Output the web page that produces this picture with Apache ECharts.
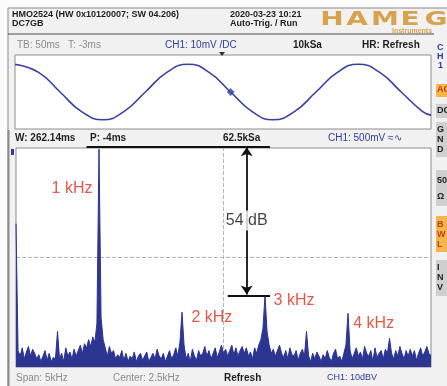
<!DOCTYPE html>
<html>
<head>
<meta charset="utf-8">
<script src="https://cdn.jsdelivr.net/npm/echarts@6/dist/echarts.min.js"></script>
<style>
html, body { margin: 0; padding: 0; background: #fff; }
#container { width: 447px; height: 386px; }
</style>
</head>
<body>
<div id="container"></div>
<script type="text/javascript">
// CH1 time trace (ms from left edge, mV)
var waveT  = [0, 34, 65, 96, 127, 157, 188, 219, 250, 280, 311, 342, 372, 403, 434, 465, 495, 526, 557, 588, 600];
var waveMv = [29.9, 21.2, 0, -21.2, -30, -21.2, 0, 21.2, 30, 21.2, 0, -21.2, -30, -21.2, 0, 21.2, 30, 21.2, 0, -21.2, -25];
var triggerPoint = [311, 0];

// FFT 0..5 kHz in 25 Hz bins, dB below top of screen (10 dB/div)
var binHz = 25;
var spectrumDb = [
  -27.6, -74, -76, -73, -77, -74.5, -72.5, -76, -73.5, -75,
  -77, -75.5, -78, -76, -74, -77.5, -75, -78, -76.5, -77,
  -67, -77, -75, -78, -73, -76, -74.5, -77, -73.5, -76,
  -74, -72, -75, -71.5, -73, -70, -72.5, -69, -71, -64,
  -0.4, -62, -70, -73, -76, -72.5, -75, -74, -77, -75.5,
  -76.5, -74, -77.5, -75, -78, -76, -77, -74.5, -78, -76,
  -75, -77.5, -76, -74.5, -78, -76.5, -75, -77, -73.5, -76,
  -77, -75, -78, -76, -74, -77, -75.5, -73, -76, -71,
  -60, -72, -77, -75, -78, -73.5, -76, -77.5, -74, -76,
  -75, -72.5, -76, -74, -77, -75, -73, -76.5, -74.5, -72,
  -75, -73.5, -76, -74, -72, -75.5, -73, -76, -74, -72.5,
  -75, -73, -76, -74.5, -77, -73, -75, -72, -70, -66,
  -53.8, -67, -72, -75, -73.5, -76, -74, -72, -75, -76.5,
  -74, -77, -73, -75.5, -76, -74, -77.5, -75, -73.5, -76,
  -67, -76, -78, -75, -77, -74.5, -76, -78, -75.5, -77,
  -74, -76.5, -78, -75, -73.5, -77, -76, -78, -75, -72,
  -60.4, -74, -77, -75, -73, -76, -74.5, -77, -72.5, -75,
  -76, -74, -78, -73, -76.5, -75, -74, -77, -73.5, -75,
  -69.5, -75, -77, -74, -76, -72.5, -75, -77, -74, -76,
  -73.5, -76, -74, -77.5, -75, -73, -76, -74.5, -72.5, -75,
  -76
];

var peakNames = ['1 kHz', '2 kHz', '3 kHz', '4 kHz'];
var deltaText = '54 dB';
var refTop = 0.6;      // 1 kHz level marker
var refLow = -53.8;    // 3 kHz level marker

var myChart = echarts.init(document.getElementById('container'), null, {renderer: 'canvas'});

var spectrum = spectrumDb.map(function (v, i) { return [i * binHz, v]; });
var wave = waveT.map(function (t, i) { return [t, waveMv[i]]; });

var FONT = '"Liberation Sans", Arial, sans-serif';
function txt(x, y, s, color, font, align) {
    return {
        type: 'text', x: x, y: y, z: 100,
        style: {
            text: s, fill: color, font: font + ' ' + FONT,
            textAlign: align || 'left', align: align || 'left',
            textVerticalAlign: 'middle', verticalAlign: 'middle'
        }
    };
}
function logoChar(x, s) {
    var t = txt(x, 20, s, '#d6a24e', 'bold 20px', 'center');
    t.style.font = 'bold 20px "DejaVu Sans", sans-serif';
    t.scaleX = 1.4;
    return t;
}
function box(x, y, w, h, fill, stroke) {
    return {
        type: 'rect', z: 1,
        shape: {x: x, y: y, width: w, height: h},
        style: {fill: fill, stroke: stroke || null, lineWidth: 1}
    };
}
function hline(x1, x2, y, color, w) {
    return {
        type: 'line', z: 2,
        shape: {x1: x1, y1: y, x2: x2, y2: y},
        style: {stroke: color, lineWidth: w || 1}
    };
}

var blue = '#2f3c9e';
var gray = '#8a8a8a';
var dark = '#1e1e1e';
var logo = '#d6a24e';

var graphics = [
    box(0, 0, 447, 386, '#fbfbfb'),
    box(8, 8, 440, 380, '#f1f1f1', '#8a8a8a'),
    {type: 'line', z: 2, shape: {x1: 8.5, y1: 130, x2: 8.5, y2: 386}, style: {stroke: '#8a8a8a', lineWidth: 2}},
    hline(8, 434, 34, '#4a4a4a', 1),
    // header
    txt(12, 15, 'HMO2524 (HW 0x10120007; SW 04.206)', dark, 'bold 9px'),
    txt(12, 24, 'DC7GB', dark, 'bold 9px'),
    txt(230, 15, '2020-03-23 10:21', dark, 'bold 9px'),
    txt(230, 24, 'Auto-Trig. / Run', dark, 'bold 9px'),
    logoChar(332, 'H'),
    logoChar(357, 'A'),
    logoChar(385, 'M'),
    logoChar(410, 'E'),
    logoChar(436, 'G'),
    txt(412, 31, 'Instruments', logo, 'bold 7px', 'center'),
    // info row
    txt(17, 45, 'TB: 50ms   T: -3ms', gray, '10px'),
    txt(165, 45, 'CH1: 10mV /DC', blue, '10px'),
    txt(293, 45, '10kSa', dark, 'bold 10px'),
    txt(362, 45, 'HR: Refresh', dark, 'bold 10px'),
    {type: 'polygon', z: 5, shape: {points: [[219, 52], [225, 52], [222, 56]]}, style: {fill: '#333'}},
    // second row
    txt(15, 138, 'W: 262.14ms', dark, 'bold 10px'),
    txt(90, 138, 'P: -4ms', dark, 'bold 10px'),
    txt(223, 138, '62.5kSa', dark, 'bold 10px'),
    txt(328, 138, 'CH1: 500mV \u2248\u223f', blue, '10px'),
    {type: 'rect', z: 5, shape: {x: 11, y: 149, width: 3, height: 6}, style: {fill: blue}},
    // bottom row
    txt(16, 378, 'Span: 5kHz', gray, '10px'),
    txt(113, 378, 'Center: 2.5kHz', gray, '10px'),
    txt(224, 378, 'Refresh', dark, 'bold 10px'),
    txt(327, 378, 'CH1: 10dBV', blue, '9px'),
    // right side keys (cut off)
    txt(437, 48, 'C', blue, 'bold 9px'),
    txt(437, 57, 'H', blue, 'bold 9px'),
    txt(438, 66, '1', blue, 'bold 9px'),
    box(436, 84, 14, 13, '#f3b54c'),
    txt(437, 90, 'AC', '#b8401c', 'bold 9px'),
    box(436, 104, 14, 14, '#cfcfcf'),
    txt(437, 111, 'DC', dark, 'bold 9px'),
    box(436, 122, 14, 35, '#cfcfcf'),
    txt(437, 130, 'G', dark, 'bold 9px'),
    txt(437, 140, 'N', dark, 'bold 9px'),
    txt(437, 150, 'D', dark, 'bold 9px'),
    box(436, 170, 14, 36, '#cfcfcf'),
    txt(437, 181, '50', dark, 'bold 9px'),
    txt(437, 197, '\u03a9', dark, 'bold 9px'),
    box(436, 216, 14, 36, '#f3b54c'),
    txt(437, 225, 'B', '#b8401c', 'bold 9px'),
    txt(437, 235, 'W', '#b8401c', 'bold 9px'),
    txt(437, 245, 'L', '#b8401c', 'bold 9px'),
    box(436, 260, 14, 36, '#cfcfcf'),
    txt(437, 268, 'I', dark, 'bold 9px'),
    txt(437, 278, 'N', dark, 'bold 9px'),
    txt(437, 288, 'V', dark, 'bold 9px')
];

var labelStyle = {
    show: true, position: 'inside', color: '#d6301f',
    fontFamily: 'Liberation Sans, Arial, sans-serif', fontSize: 16
};

var option = {
    animation: false,
    graphic: graphics,
    grid: [
        {left: 15, top: 55, width: 416, height: 74, show: true,
         backgroundColor: '#ffffff', borderColor: '#8c8c8c', borderWidth: 1, z: 3},
        {left: 16, top: 148, width: 415, height: 219, show: true,
         backgroundColor: '#ffffff', borderColor: '#8c8c8c', borderWidth: 1, z: 3}
    ],
    xAxis: [
        {gridIndex: 0, type: 'value', min: 0, max: 600,
         axisLine: {show: false}, axisTick: {show: false}, axisLabel: {show: false}, splitLine: {show: false}},
        {gridIndex: 1, type: 'value', min: 0, max: 5000, interval: 5000 / 12,
         axisLine: {show: false}, axisTick: {show: false}, axisLabel: {show: false},
         splitLine: {show: true, lineStyle: {color: '#dcdcdc', width: 1}}}
    ],
    yAxis: [
        {gridIndex: 0, type: 'value', min: -40, max: 40,
         axisLine: {show: false}, axisTick: {show: false}, axisLabel: {show: false}, splitLine: {show: false}},
        {gridIndex: 1, type: 'value', min: -80, max: 0, interval: 10,
         axisLine: {show: false}, axisTick: {show: false}, axisLabel: {show: false},
         splitLine: {show: true, lineStyle: {color: '#dcdcdc', width: 1}}}
    ],
    series: [
        {
            name: 'CH1', type: 'line', xAxisIndex: 0, yAxisIndex: 0,
            data: wave, smooth: true, showSymbol: false, symbol: 'none', z: 5,
            lineStyle: {color: '#3a419c', width: 1.6}
        },
        {
            name: 'trig', type: 'scatter', xAxisIndex: 0, yAxisIndex: 0,
            data: [triggerPoint], symbol: 'diamond', symbolSize: 8, z: 6,
            itemStyle: {color: '#3a419c'}
        },
        {
            name: 'FFT', type: 'line', xAxisIndex: 1, yAxisIndex: 1,
            data: spectrum, showSymbol: false, symbol: 'none', z: 5,
            lineStyle: {color: '#2d3592', width: 1},
            areaStyle: {color: '#2d3592', opacity: 1, origin: 'start'},
            markLine: {
                silent: true, symbol: 'none', label: {show: false},
                lineStyle: {color: '#b4b4b4', type: 'dashed', width: 1},
                data: [{xAxis: 2500}, {yAxis: -40}]
            }
        },
        {
            name: 'levels', type: 'lines', coordinateSystem: 'cartesian2d',
            xAxisIndex: 1, yAxisIndex: 1, clip: false, z: 7,
            lineStyle: {color: '#111', width: 1.8, opacity: 1},
            data: [
                {coords: [[850, refTop], [3060, refTop]]},
                {coords: [[2550, refLow], [3060, refLow]]},
                {coords: [[2780, refTop - 0.3], [2780, refLow + 0.3]],
                 symbol: ['arrow', 'arrow'], symbolSize: 9}
            ]
        },
        {
            name: 'labels', type: 'scatter', xAxisIndex: 1, yAxisIndex: 1,
            symbolSize: 1, itemStyle: {color: 'rgba(0,0,0,0)'}, z: 9,
            label: labelStyle,
            data: [
                {value: [675, -14.9], name: peakNames[0]},
                {value: [2360, -61.8], name: peakNames[1]},
                {value: [3350, -55.6], name: peakNames[2]},
                {value: [4310, -64], name: peakNames[3]},
                {value: [2780, -26.5], name: deltaText,
                 label: {color: '#111', backgroundColor: '#ffffff', padding: [2, 1]}}
            ]
        }
    ]
};
option.series[4].label.formatter = function (p) { return p.name; };

myChart.setOption(option);
</script>
</body>
</html>
